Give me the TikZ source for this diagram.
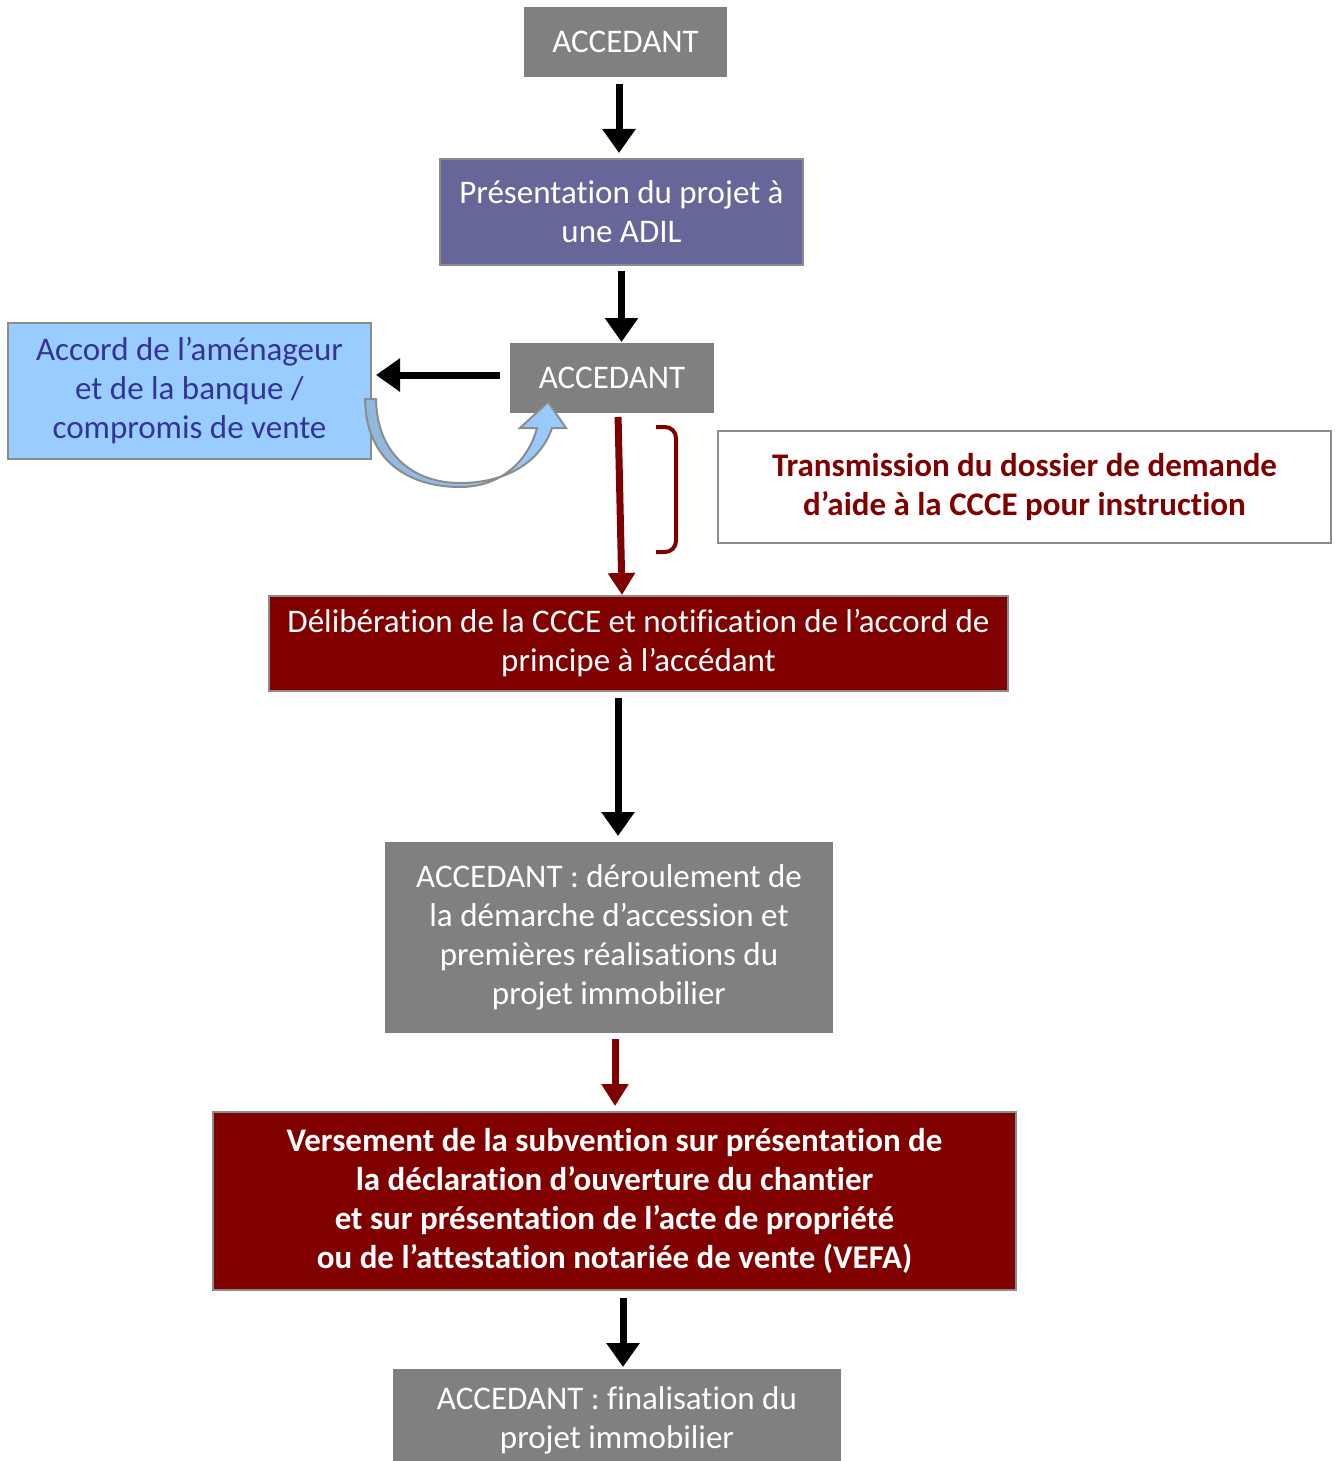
\documentclass[tikz,border=0pt]{standalone}
\usepackage{fontspec}
\setmainfont{Carlito}[Ligatures=NoCommon]
\usetikzlibrary{arrows.meta}

\definecolor{gris}{HTML}{808080}
\definecolor{violetadil}{HTML}{666699}
\definecolor{bleuclair}{HTML}{99CCFF}
\definecolor{bleutexte}{HTML}{333399}
\definecolor{bordeaux}{HTML}{800000}
\definecolor{cadre}{HTML}{8C8C8C}

\tikzstyle{texte} = [font=\fontsize{33}{39}\selectfont, align=center, inner sep=0pt]
\tikzstyle{boite} = [texte, draw=cadre, line width=2pt, text=white]
\tikzstyle{fleche} = [line width=7pt, -{Triangle[width=32pt,length=24pt]}]
\tikzstyle{flecherouge} = [bordeaux, line width=7pt, -{Triangle[width=26pt,length=22pt]}]

\begin{document}
\begin{tikzpicture}[x=1pt, y=-1pt]
    \useasboundingbox (0,0) rectangle (1336,1461);

    % accedant et adil
    \node at (625.5,42) [boite, fill=gris, draw=gris, minimum width=201pt, minimum height=68pt] (acc1) {ACCEDANT};
    \node at (621.5,212) [boite, fill=violetadil, minimum width=363pt, minimum height=106pt] (pres) {Présentation du projet à\\une ADIL};
    \node at (612,378) [boite, fill=gris, draw=gris, minimum width=202pt, minimum height=68pt] (acc2) {ACCEDANT};

    % accord et boucle
    \node at (189.5,391) [boite, fill=bleuclair, text=bleutexte, minimum width=363pt, minimum height=136pt] (accord) {Accord de l’aménageur\\et de la banque /\\compromis de vente};
    \draw [draw=cadre, line width=2pt, left color=bleuclair!72!gray, right color=bleuclair]
        (365,399) .. controls (366,462) and (410,487) .. (460,487)
        .. controls (500,487) and (528,462) .. (537,428)
        -- (520,428) -- (548,402) -- (566,428) -- (552,428)
        .. controls (540,463) and (505,483) .. (460,483)
        .. controls (415,483) and (377,456) .. (376,399) -- cycle;

    % transmission a la ccce
    \node at (1024.5,487) [boite, fill=white, text=bordeaux, font=\fontsize{33}{39}\selectfont\bfseries, minimum width=613pt, minimum height=112pt] (trans) {Transmission du dossier de demande\\d’aide à la CCCE pour instruction};
    \draw [bordeaux, line width=4pt, rounded corners=11pt] (656,427) -- (676,427) -- (676,552) -- (656,552);

    % deliberation et suite
    \node at (638.5,643.5) [boite, fill=bordeaux, minimum width=739pt, minimum height=95pt] (delib) {Délibération de la CCCE et notification de l’accord de\\principe à l’accédant};
    \node at (609,937.5) [boite, fill=gris, draw=gris, minimum width=446pt, minimum height=189pt] (derou) {ACCEDANT : déroulement de\\la démarche d’accession et\\premières réalisations du\\projet immobilier};
    \node at (614.5,1201) [boite, fill=bordeaux, font=\fontsize{33}{39}\selectfont\bfseries, minimum width=803pt, minimum height=178pt] (vers) {Versement de la subvention sur présentation de\\la déclaration d’ouverture du chantier\\et sur présentation de l’acte de propriété\\ou de l’attestation notariée de vente (VEFA)};
    \node at (617,1420) [boite, fill=gris, draw=gris, minimum width=446pt, minimum height=100pt] (final) {ACCEDANT : finalisation du\\projet immobilier};

    % fleches
    \draw [fleche, shorten <=7pt, shorten >=5pt] ([xshift=-6.5pt]acc1.south) -- ([xshift=-2.5pt]pres.north);
    \draw [fleche, shorten <=5pt, shorten >=1pt] (pres.south) -- (pres.south |- acc2.north);
    \draw [fleche, shorten <=10pt, shorten >=4pt] ([yshift=3pt]acc2.west) -- ([yshift=16pt]accord.east);
    \draw [flecherouge, shorten <=4pt] ([xshift=6pt]acc2.south) -- ([xshift=-16.5pt]delib.north);
    \draw [fleche, shorten <=6pt, shorten >=6pt] ([xshift=-20.5pt]delib.south) -- ([xshift=9pt]derou.north);
    \draw [flecherouge, shorten <=6pt, shorten >=5pt] ([xshift=6pt]derou.south) -- ([xshift=0.5pt]vers.north);
    \draw [fleche, shorten <=7pt, shorten >=2pt] ([xshift=8.5pt]vers.south) -- ([xshift=6pt]final.north);

\end{tikzpicture}
\end{document}
